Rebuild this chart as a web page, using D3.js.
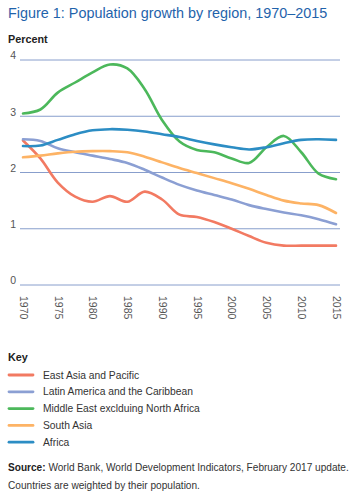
<!DOCTYPE html>
<html>
<head>
<meta charset="utf-8">
<script src="https://cdn.jsdelivr.net/npm/d3@7"></script>
<style>
  body { margin: 0; background: #fff; }
  svg { font-family: "Liberation Sans", Arial, sans-serif; display: block; }
</style>
</head>
<body>
<svg class="chart"></svg>
<script>
const years = [1970, 1972.5, 1975, 1977.5, 1980, 1982.5, 1985, 1987.5, 1990, 1992.5,
  1995, 1997.5, 2000, 2002.5, 2005, 2007.5, 2010, 2012.5, 2015];
const tickYears = [1970, 1975, 1980, 1985, 1990, 1995, 2000, 2005, 2010, 2015];
const yTicks = [0, 1, 2, 3, 4];

const regions = ['East Asia and Pacific', 'Latin America and the Caribbean',
  'Middle East exclduing North Africa', 'South Asia', 'Africa'];
const eastAsia = [2.57, 2.25, 1.82, 1.57, 1.48, 1.58, 1.48, 1.66, 1.52, 1.25,
  1.21, 1.12, 1.0, 0.87, 0.75, 0.7, 0.7, 0.7, 0.7];
const latinAmerica = [2.59, 2.56, 2.43, 2.36, 2.3, 2.24, 2.17, 2.05, 1.91, 1.78,
  1.68, 1.6, 1.52, 1.42, 1.35, 1.29, 1.24, 1.17, 1.08];
const middleEast = [3.05, 3.12, 3.42, 3.6, 3.78, 3.92, 3.85, 3.48, 2.93, 2.55,
  2.4, 2.36, 2.25, 2.17, 2.45, 2.65, 2.36, 1.98, 1.88];
const southAsia = [2.27, 2.3, 2.34, 2.37, 2.38, 2.38, 2.36, 2.28, 2.18, 2.08,
  1.99, 1.9, 1.81, 1.71, 1.6, 1.5, 1.45, 1.42, 1.28];
const africa = [2.47, 2.48, 2.58, 2.68, 2.75, 2.77, 2.76, 2.73, 2.68, 2.63,
  2.56, 2.5, 2.45, 2.41, 2.45, 2.52, 2.58, 2.59, 2.58];
const colors = ['#f27a62', '#8b9fd3', '#4cb85b', '#fdb365', '#2c8dc4'];

const startApp = () => {
  const viewBox = { width: 361, height: 497 };
  const series = [eastAsia, latinAmerica, middleEast, southAsia, africa];

  const svg = d3.select('.chart')
    .attr('width', viewBox.width)
    .attr('height', viewBox.height);

  const xScale = d3.scaleLinear().domain([1970, 2015]).range([23, 336]);
  const yScale = d3.scaleLinear().domain([0, 4]).range([285, 60]);

  svg.append('text')
    .attr('x', 8).attr('y', 18)
    .attr('fill', '#1f63ab')
    .attr('font-size', 14.4)
    .text('Figure 1: Population growth by region, 1970\u20132015');

  svg.append('text')
    .attr('x', 8).attr('y', 43)
    .attr('font-size', 10.8).attr('font-weight', 'bold').attr('fill', '#222')
    .text('Percent');

  // horizontal grid + y labels
  const yAxis = d3.axisLeft(yScale).tickValues(yTicks).tickFormat(d3.format('d')).tickSize(0);
  const yg = svg.append('g').attr('transform', 'translate(16,0)').call(yAxis);
  yg.select('.domain').remove();
  yg.selectAll('text').attr('font-size', 10.5).attr('fill', '#555').attr('text-anchor', 'end')
    .attr('x', 0).attr('dy', '-0.1em');
  svg.append('g').selectAll('line')
    .data(yTicks)
    .enter()
    .append('line')
    .attr('x1', 20).attr('x2', 340)
    .attr('y1', d => yScale(d)).attr('y2', d => yScale(d))
    .attr('stroke', '#7b93c6').attr('stroke-width', 0.9);

  // x axis labels (rotated)
  const xAxis = d3.axisBottom(xScale).tickValues(tickYears).tickFormat(d3.format('d')).tickSize(0);
  const xg = svg.append('g').attr('transform', 'translate(0,285)').call(xAxis);
  xg.select('.domain').remove();
  xg.selectAll('text')
    .attr('font-size', 10.5).attr('fill', '#555')
    .attr('text-anchor', 'start')
    .attr('transform', 'rotate(90)')
    .attr('x', 11).attr('y', 0).attr('dy', '0.35em');

  const line = d3.line()
    .x((d, i) => xScale(years[i]))
    .y(d => yScale(d))
    .curve(d3.curveCatmullRom.alpha(0.5));

  svg.append('g').selectAll('path')
    .data(series)
    .enter()
    .append('path')
    .attr('d', line)
    .attr('fill', 'none')
    .attr('stroke', (d, i) => colors[i])
    .attr('stroke-width', 2.6)
    .attr('stroke-linecap', 'round');

  // legend
  svg.append('text')
    .attr('x', 8).attr('y', 361)
    .attr('font-size', 10.8).attr('font-weight', 'bold').attr('fill', '#222')
    .text('Key');

  const legend = svg.append('g').selectAll('g')
    .data(regions)
    .enter()
    .append('g')
    .attr('transform', (d, i) => `translate(0, ${375 + i * 16.8})`);
  legend.append('line')
    .attr('x1', 9).attr('x2', 33)
    .attr('stroke', (d, i) => colors[i])
    .attr('stroke-width', 2.8).attr('stroke-linecap', 'round');
  legend.append('text')
    .attr('x', 43).attr('dy', '0.35em')
    .attr('font-size', 10.3).attr('fill', '#333')
    .text(d => d);

  const src = svg.append('text')
    .attr('x', 8).attr('y', 471)
    .attr('font-size', 10.1).attr('fill', '#333');
  src.append('tspan').attr('font-weight', 'bold').attr('fill', '#222').text('Source: ');
  src.append('tspan').text('World Bank, World Development Indicators, February 2017 update.');

  svg.append('text')
    .attr('x', 8).attr('y', 489)
    .attr('font-size', 10.1).attr('fill', '#333')
    .text('Countries are weighted by their population.');
};

window.onload = startApp;
</script>
</body>
</html>
